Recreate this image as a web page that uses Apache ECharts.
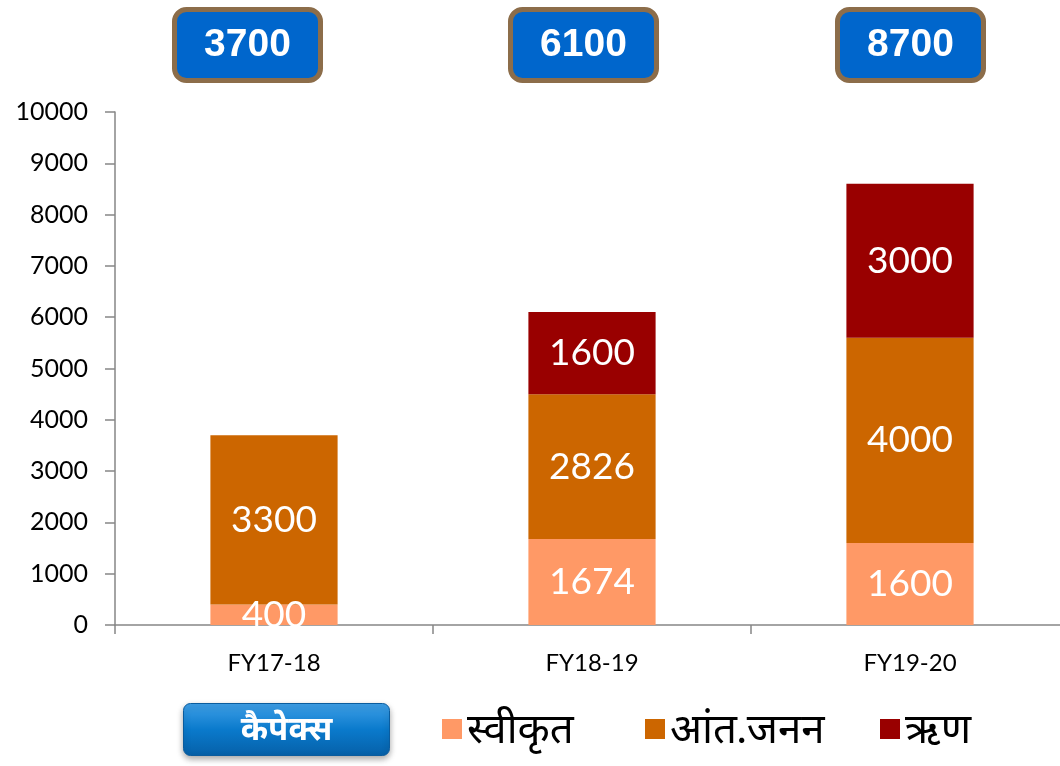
<!DOCTYPE html>
<html>
<head>
<meta charset="utf-8">
<script src="https://cdn.jsdelivr.net/npm/echarts@6/dist/echarts.min.js"></script>
<style>
  html, body { margin: 0; padding: 0; background: #fff; }
  #main { width: 1060px; height: 766px; }
</style>
</head>
<body>
<div id="main"></div>
<script>
const categories = ['FY17-18', 'FY18-19', 'FY19-20'];
const seriesNames = ['स्वीकृत', 'आंत.जनन', 'ऋण'];
const sanctioned = [400, 1674, 1600];
const internal = [3300, 2826, 4000];
const loan = [null, 1600, 3000];
const totals = ['3700', '6100', '8700'];
const buttonText = 'कैपेक्स';

const colors = ['#FF9966', '#CC6600', '#990000'];
const font = 'Lato, "Noto Sans", sans-serif';

const chart = echarts.init(document.getElementById('main'));

function barSeries(name, data, color) {
  return {
    name: name,
    type: 'bar',
    stack: 'total',
    barWidth: '40%',
    itemStyle: {color: color},
    label: {
      show: true,
      position: 'inside',
      color: '#fff',
      fontSize: 37,
      fontFamily: font
    },
    data: data
  };
}

// one legend per item so they sit where the original puts them
const legendLefts = [437, 640, 875];
const legends = seriesNames.map((n, i) => ({
  data: [n],
  left: legendLefts[i],
  top: 703,
  itemWidth: 20,
  itemHeight: 20,
  icon: 'rect',
  textStyle: {fontSize: 42, color: '#000', fontFamily: font}
}));

// boxes with totals above the bars
const boxCenters = [246, 582, 909];
const graphics = totals.map((t, i) => ({
  type: 'group',
  left: boxCenters[i] - 74,
  top: 7,
  children: [
    {
      type: 'rect',
      shape: {x: 0, y: 0, width: 146, height: 71, r: 12},
      style: {fill: '#0066CC', stroke: '#8C6D4A', lineWidth: 5}
    },
    {
      type: 'text',
      style: {
        text: t, x: 73, y: 36, align: 'center', verticalAlign: 'middle',
        fill: '#fff', fontSize: 39, fontWeight: 'bold', fontFamily: '"Liberation Sans", Arial, sans-serif'
      }
    }
  ]
}));
graphics.push({
  type: 'group',
  left: 183,
  top: 703,
  children: [
    {
      type: 'rect',
      shape: {x: 0, y: 0, width: 206, height: 52, r: 7},
      style: {
        fill: new echarts.graphic.LinearGradient(0, 0, 0, 1, [
          {offset: 0, color: '#3FA0E8'},
          {offset: 0.5, color: '#0A7ACC'},
          {offset: 1, color: '#0660A8'}
        ]),
        stroke: '#0A5C9E', lineWidth: 1,
        shadowBlur: 6, shadowOffsetY: 3, shadowColor: 'rgba(0,0,0,0.35)'
      }
    },
    {
      type: 'text',
      style: {
        text: buttonText, x: 103, y: 26, align: 'center', verticalAlign: 'middle',
        fill: '#fff', fontSize: 33, fontWeight: 'bold', fontFamily: font
      }
    }
  ]
});

chart.setOption({
  animation: false,
  grid: {left: 115, width: 954, top: 112, bottom: 141, outerBoundsMode: 'none'},
  legend: legends,
  xAxis: {
    type: 'category',
    data: categories,
    axisLine: {lineStyle: {color: '#868686', width: 1.5}},
    axisTick: {show: true, length: 9, lineStyle: {color: '#868686', width: 1.5}},
    axisLabel: {color: '#000', fontSize: 24, margin: 26, fontFamily: font}
  },
  yAxis: {
    type: 'value',
    min: 0,
    max: 10000,
    interval: 1000,
    splitLine: {show: false},
    axisLine: {show: true, lineStyle: {color: '#868686', width: 1.5}},
    axisTick: {show: true, length: 10, lineStyle: {color: '#868686', width: 1.5}},
    axisLabel: {color: '#000', fontSize: 25, margin: 27, fontFamily: font, formatter: v => String(v)}
  },
  series: [
    barSeries(seriesNames[0], sanctioned, colors[0]),
    barSeries(seriesNames[1], internal, colors[1]),
    barSeries(seriesNames[2], loan, colors[2])
  ],
  graphic: graphics
});
</script>
</body>
</html>
